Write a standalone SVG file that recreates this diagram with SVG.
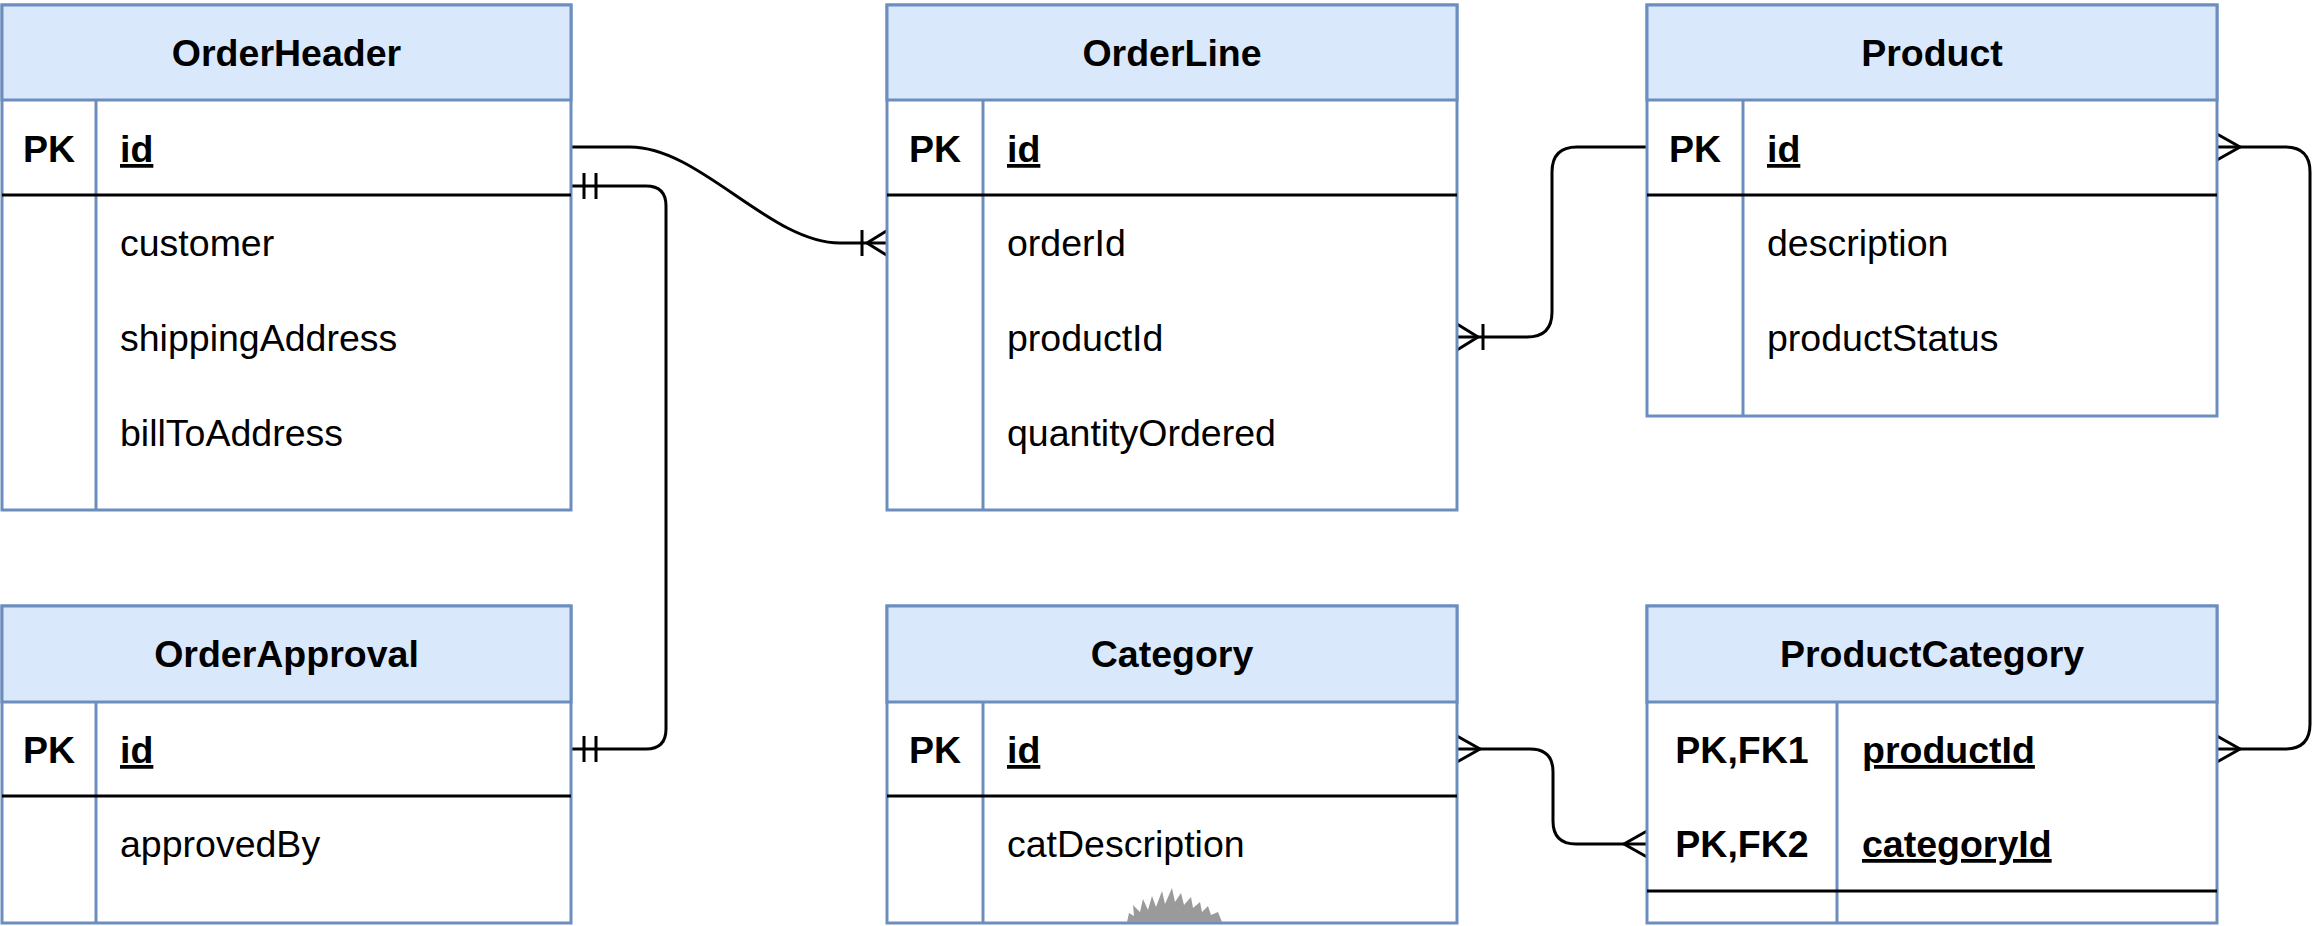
<svg xmlns="http://www.w3.org/2000/svg" width="2318" height="926" viewBox="0 0 2318 926">
<defs>
<style>
.box{fill:#ffffff;stroke:#6c8ebf;stroke-width:3}
.head{fill:#dae8fc;stroke:#6c8ebf;stroke-width:3}
.col{stroke:#6c8ebf;stroke-width:3}
.div{stroke:#000000;stroke-width:3}
text{font-family:"Liberation Sans",Arial,Helvetica,sans-serif;font-size:37.5px;fill:#000000}
.title{font-weight:bold;text-anchor:middle}
.key{font-weight:bold;text-anchor:middle}
.pk{font-weight:bold;text-decoration:underline;text-decoration-color:#808080;text-decoration-thickness:4px}
.edge{fill:none;stroke:#000000;stroke-width:3}
.mk{fill:none;stroke:#000000;stroke-width:3}
</style>
<marker id="one" viewBox="-40 -20 50 40" refX="0" refY="0" markerWidth="50" markerHeight="40" markerUnits="userSpaceOnUse" orient="auto-start-reverse" overflow="visible">
<path class="mk" d="M-13,-13 V13 M-25,-13 V13"/>
</marker>
<marker id="oneMany" viewBox="-40 -20 50 40" refX="0" refY="0" markerWidth="50" markerHeight="40" markerUnits="userSpaceOnUse" orient="auto-start-reverse" overflow="visible">
<path class="mk" d="M-26,-13 V13 M0,-13 L-21,0 L0,13"/>
</marker>
<marker id="many" viewBox="-40 -20 50 40" refX="0" refY="0" markerWidth="50" markerHeight="40" markerUnits="userSpaceOnUse" orient="auto-start-reverse" overflow="visible">
<path class="mk" d="M0,-13 L-23,0 L0,13"/>
</marker>
</defs>
<rect width="2318" height="926" fill="#ffffff"/>

<g id="connectors">
<path class="edge" d="M571,147 L630,147 C700,147 770,243 840,243 L888,243" marker-end="url(#oneMany)"/>
<path class="edge" d="M571,186 L646,186 Q666,186 666,206 L666,729 Q666,749 646,749 L571,749" marker-start="url(#one)" marker-end="url(#one)"/>
<path class="edge" d="M1647,147 L1577,147 Q1552,147 1552,172 L1552,312 Q1552,337 1527,337 L1457,337" marker-end="url(#oneMany)"/>
<path class="edge" d="M2217,147 L2285,147 Q2310,147 2310,172 L2310,724 Q2310,749 2285,749 L2217,749" marker-start="url(#many)" marker-end="url(#many)"/>
<path class="edge" d="M1457,749 L1530,749 Q1553,749 1553,772 L1553,821 Q1553,844 1576,844 L1647,844" marker-start="url(#many)" marker-end="url(#many)"/>
</g>

<g id="OrderHeader">
<rect class="box" x="2" y="5" width="569" height="505"/>
<rect class="head" x="2" y="5" width="569" height="95"/>
<line class="col" x1="96" y1="100" x2="96" y2="510"/>
<line class="div" x1="2" y1="195" x2="571" y2="195"/>
<text class="title" x="286.5" y="66">OrderHeader</text>
<text class="key" x="49" y="162">PK</text>
<text class="pk" x="120" y="162">id</text>
<text x="120" y="256">customer</text>
<text x="120" y="351">shippingAddress</text>
<text x="120" y="446">billToAddress</text>
</g>

<g id="OrderLine">
<rect class="box" x="887" y="5" width="570" height="505"/>
<rect class="head" x="887" y="5" width="570" height="95"/>
<line class="col" x1="983" y1="100" x2="983" y2="510"/>
<line class="div" x1="887" y1="195" x2="1457" y2="195"/>
<text class="title" x="1172" y="66">OrderLine</text>
<text class="key" x="935" y="162">PK</text>
<text class="pk" x="1007" y="162">id</text>
<text x="1007" y="256">orderId</text>
<text x="1007" y="351">productId</text>
<text x="1007" y="446">quantityOrdered</text>
</g>

<g id="Product">
<rect class="box" x="1647" y="5" width="570" height="411"/>
<rect class="head" x="1647" y="5" width="570" height="95"/>
<line class="col" x1="1743" y1="100" x2="1743" y2="416"/>
<line class="div" x1="1647" y1="195" x2="2217" y2="195"/>
<text class="title" x="1932" y="66">Product</text>
<text class="key" x="1695" y="162">PK</text>
<text class="pk" x="1767" y="162">id</text>
<text x="1767" y="256">description</text>
<text x="1767" y="351">productStatus</text>
</g>

<g id="OrderApproval">
<rect class="box" x="2" y="606" width="569" height="317"/>
<rect class="head" x="2" y="606" width="569" height="96"/>
<line class="col" x1="96" y1="702" x2="96" y2="923"/>
<line class="div" x1="2" y1="796" x2="571" y2="796"/>
<text class="title" x="286.5" y="667">OrderApproval</text>
<text class="key" x="49" y="763">PK</text>
<text class="pk" x="120" y="763">id</text>
<text x="120" y="857">approvedBy</text>
</g>

<g id="Category">
<rect class="box" x="887" y="606" width="570" height="317"/>
<rect class="head" x="887" y="606" width="570" height="96"/>
<line class="col" x1="983" y1="702" x2="983" y2="923"/>
<line class="div" x1="887" y1="796" x2="1457" y2="796"/>
<text class="title" x="1172" y="667">Category</text>
<text class="key" x="935" y="763">PK</text>
<text class="pk" x="1007" y="763">id</text>
<text x="1007" y="857">catDescription</text>
<path d="M1127,922 L1129,913 L1134,916 L1133,905 L1140,912 L1143,899 L1148,910 L1152,896 L1156,907 L1162,891 L1165,904 L1172,888 L1175,902 L1181,893 L1184,905 L1191,897 L1193,908 L1200,902 L1202,912 L1208,906 L1211,915 L1218,912 L1222,922 Z" fill="#9a9a9a"/>
</g>

<g id="ProductCategory">
<rect class="box" x="1647" y="606" width="570" height="317"/>
<rect class="head" x="1647" y="606" width="570" height="96"/>
<line class="col" x1="1837" y1="702" x2="1837" y2="923"/>
<line class="div" x1="1647" y1="891" x2="2217" y2="891"/>
<text class="title" x="1932" y="667">ProductCategory</text>
<text class="key" x="1742" y="763">PK,FK1</text>
<text class="pk" x="1862" y="763">productId</text>
<text class="key" x="1742" y="857">PK,FK2</text>
<text class="pk" x="1862" y="857">categoryId</text>
</g>
</svg>
